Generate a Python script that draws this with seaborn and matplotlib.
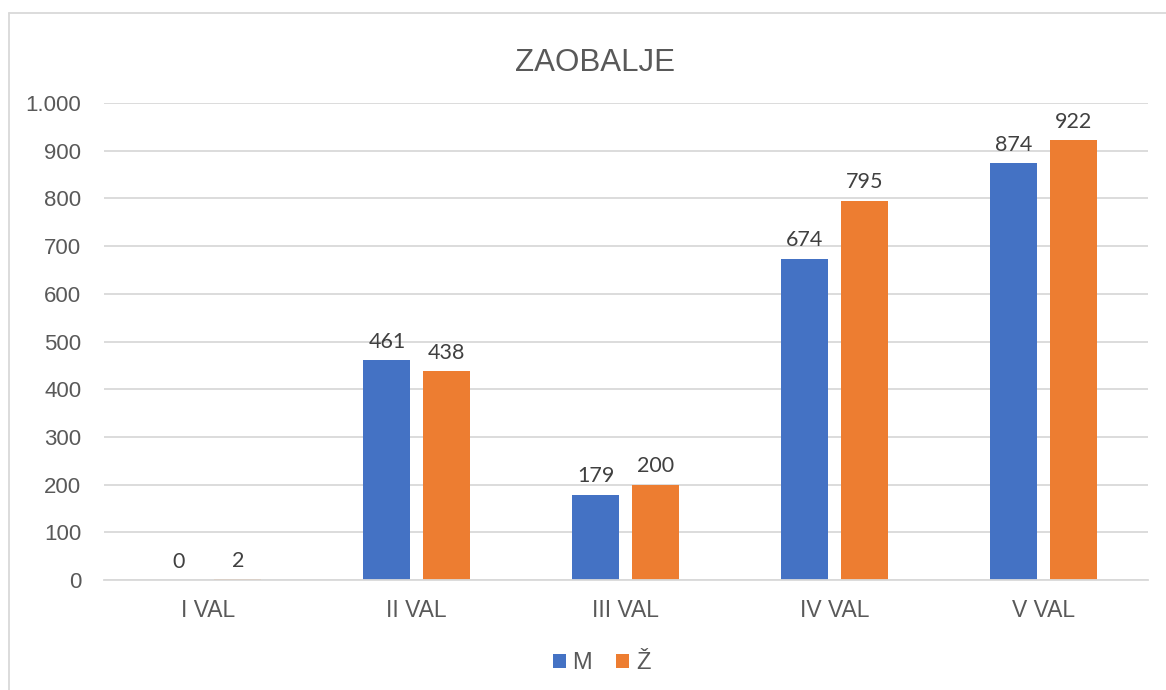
import seaborn as sns
import pandas as pd
from matplotlib import pyplot as plt
from matplotlib.lines import Line2D
from matplotlib.ticker import FuncFormatter

# Podaci
kategorije = ["I VAL", "II VAL", "III VAL", "IV VAL", "V VAL"]
muski = [0, 461, 179, 674, 874]
zenski = [2, 438, 200, 795, 922]
serije = ["M", "Ž"]
boje = ["#4472C4", "#ED7D31"]

df = pd.DataFrame({
    "val": kategorije * 2,
    "pol": [serije[0]] * len(kategorije) + [serije[1]] * len(kategorije),
    "broj": muski + zenski,
})

sns.set_theme(style="white")
plt.rcParams["font.family"] = ["Liberation Sans", "DejaVu Sans"]

fig = plt.figure(figsize=(11.66, 6.9), dpi=100)
ax = fig.add_axes([0.0888, 0.1594, 0.8954, 0.6913])

sns.barplot(data=df, x="val", y="broj", hue="pol", palette=boje,
            width=0.572, gap=0.213, ax=ax, saturation=1, legend=True,
            linewidth=0, edgecolor="none")

# Oznake vrijednosti
for cont in ax.containers:
    ax.bar_label(cont, padding=6, fontsize=15.5, color="#404040",
                 family=["Lato", "DejaVu Sans"])

ax.set_ylim(0, 1000)
ax.set_xlim(-0.5, 4.5)
ax.set_yticks(range(0, 1001, 100))
ax.yaxis.set_major_formatter(FuncFormatter(lambda v, p: f"{int(v):,}".replace(",", ".")))
ax.grid(axis="y", color="#d9d9d9", linewidth=1.3)
ax.set_axisbelow(True)
for s in ["top", "right", "left"]:
    ax.spines[s].set_visible(False)
ax.spines["bottom"].set_color("#d9d9d9")
ax.spines["bottom"].set_linewidth(1.3)
ax.tick_params(axis="y", length=0, pad=16, labelsize=16, labelcolor="#595959")
ax.tick_params(axis="x", length=0, pad=14, labelsize=16.5, labelcolor="#595959")
ax.set_xlabel("")
ax.set_ylabel("")

fig.suptitle("ZAOBALJE", x=0.51, y=0.93, fontsize=22.5, color="#595959")

leg = ax.legend(loc="center", bbox_to_anchor=(0.477, -0.175), ncol=2, frameon=False,
                fontsize=17, handlelength=0.55, handleheight=0.55, handletextpad=0.3,
                columnspacing=1.0)
for t in leg.get_texts():
    t.set_color("#595959")

# Okvir
fig.add_artist(Line2D([9 / 1166, 1], [1 - 13 / 690, 1 - 13 / 690], color="#d9d9d9", lw=1.3))
fig.add_artist(Line2D([9 / 1166, 9 / 1166], [0, 1 - 13 / 690], color="#d9d9d9", lw=1.3))

fig.savefig("out.png", dpi=100)
